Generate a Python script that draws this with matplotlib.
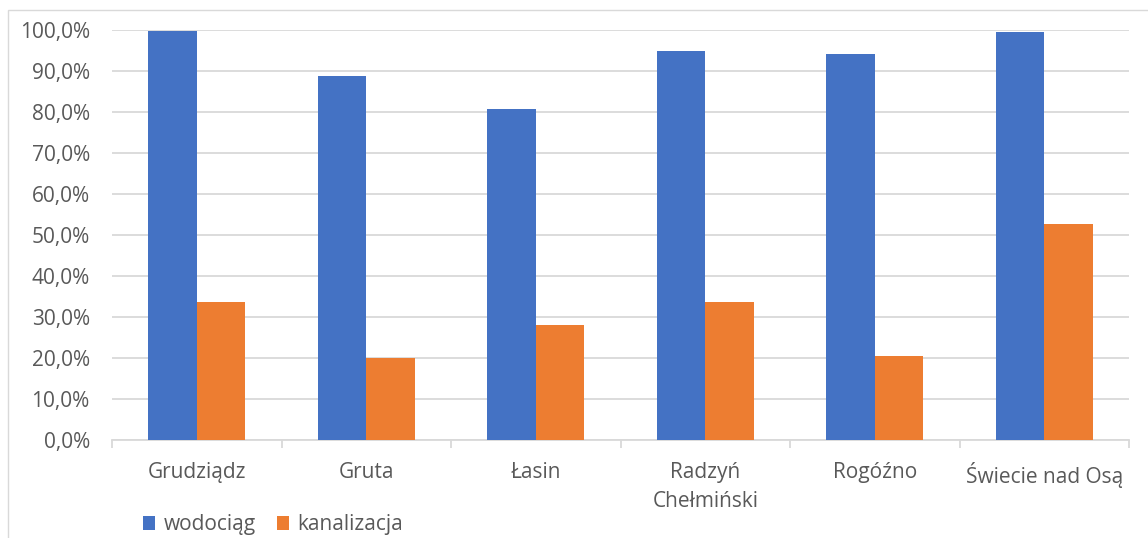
import numpy as np
import matplotlib.pyplot as plt
from matplotlib.patches import Rectangle
from matplotlib.ticker import FuncFormatter

plt.rcParams['font.family'] = ['Open Sans', 'DejaVu Sans']

gminy = ['Grudziądz', 'Gruta', 'Łasin', 'Radzyń\nChełmiński', 'Rogóźno', 'Świecie nad Osą']
wodociag = [99.7, 88.8, 80.8, 95.0, 94.1, 99.4]
kanalizacja = [33.7, 20.1, 28.1, 33.6, 20.5, 52.8]

blue = '#4472c4'
orange = '#ed7d31'
grid = '#d9d9d9'
txt = '#595959'

fig = plt.figure(figsize=(11.48, 5.38), dpi=100)
ax = fig.add_axes([112 / 1148, 1 - 440 / 538, (1129 - 112) / 1148, 410 / 538])

# ramka wykresu
fig.patches.append(Rectangle((8 / 1148, -0.1), 1.2, 1 - 10 / 538 + 0.1,
                             transform=fig.transFigure, fill=False,
                             edgecolor=grid, linewidth=1))

x = np.arange(len(gminy))
w = 0.286
ax.bar(x - w / 2, wodociag, w, color=blue, label='wodociąg', zorder=3)
ax.bar(x + w / 2, kanalizacja, w, color=orange, label='kanalizacja', zorder=3)

ax.set_xlim(-0.5, len(gminy) - 0.5)
ax.set_ylim(0, 100)
ax.set_yticks(np.arange(0, 101, 10))
ax.yaxis.set_major_formatter(FuncFormatter(lambda v, p: f'{v:.1f}%'.replace('.', ',')))
ax.yaxis.grid(True, color=grid, linewidth=1.3, zorder=0)
ax.tick_params(axis='y', length=0, labelsize=15, labelcolor=txt, pad=16)

ax.set_xticks(x)
ax.set_xticklabels(gminy, linespacing=1.5)
ax.set_xticks(np.arange(-0.5, len(gminy)), minor=True)
ax.tick_params(axis='x', which='minor', length=6, color=grid, width=1.3)
ax.tick_params(axis='x', which='major', length=0, labelsize=15, labelcolor=txt, pad=16)

for s in ['top', 'right', 'left']:
    ax.spines[s].set_visible(False)
ax.spines['bottom'].set_color(grid)
ax.spines['bottom'].set_linewidth(1.3)

fig.legend(loc='lower left', bbox_to_anchor=(124 / 1148, -0.03), ncol=2, frameon=False,
           fontsize=15, labelcolor=txt, handlelength=0.6, handleheight=0.6,
           handletextpad=0.4, columnspacing=1.0)

fig.savefig('out.png', dpi=100)
